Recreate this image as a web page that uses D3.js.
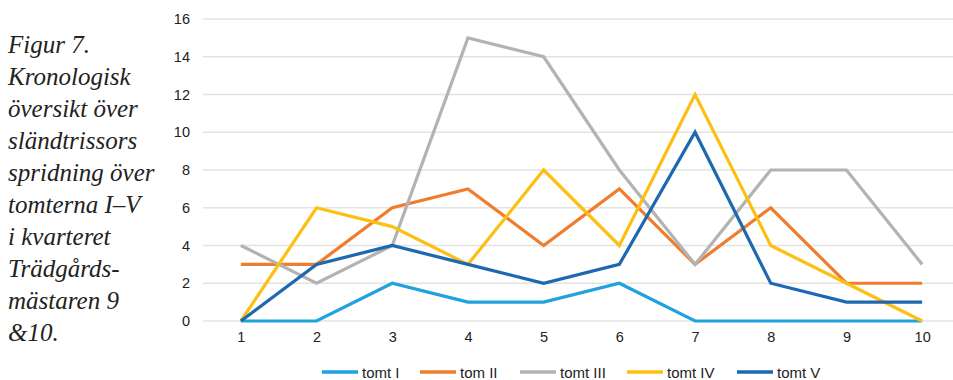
<!DOCTYPE html>
<html>
<head>
<meta charset="utf-8">
<script src="https://cdn.jsdelivr.net/npm/d3@7"></script>
<style>
  body { margin: 0; background: #fff; }
  svg { display: block; }
  .caption { font-family: "Liberation Serif", "DejaVu Serif", "Times New Roman", Times, serif; font-style: italic; }
  .lab { font-family: "Liberation Sans", Arial, sans-serif; }
</style>
</head>
<body>
<script>
var categories = [1, 2, 3, 4, 5, 6, 7, 8, 9, 10];
var seriesNames = ["tomt I", "tom II", "tomt III", "tomt IV", "tomt V"];
var tomtI   = [0, 0, 2, 1, 1, 2, 0, 0, 0, 0];
var tomtII  = [3, 3, 6, 7, 4, 7, 3, 6, 2, 2];
var tomtIII = [4, 2, 4, 15, 14, 8, 3, 8, 8, 3];
var tomtIV  = [0, 6, 5, 3, 8, 4, 12, 4, 2, 0];
var tomtV   = [0, 3, 4, 3, 2, 3, 10, 2, 1, 1];
var yTicks = [0, 2, 4, 6, 8, 10, 12, 14, 16];
var caption = ["Figur 7.", "Kronologisk", "översikt över", "sländtrissors",
  "spridning över", "tomterna I–V", "i kvarteret", "Trädgårds-", "mästaren 9", "&10."];

var colors = ["#1fa2de", "#ef7d2d", "#b3b3b3", "#fdbf12", "#1d69b1"];
var allSeries = [tomtI, tomtII, tomtIII, tomtIV, tomtV];

var width = 953, height = 380;
var svg = d3.select("body").append("svg")
    .attr("width", width)
    .attr("height", height);

// caption on the left
svg.append("g").selectAll("text")
    .data(caption)
    .enter()
    .append("text")
    .attr("class", "caption")
    .attr("x", 8)
    .attr("y", (d, i) => 53 + i * 32)
    .attr("font-size", 25)
    .attr("fill", "#222")
    .text(d => d);

var x = d3.scalePoint()
    .domain(categories)
    .range([203, 960])
    .padding(0.5);

var y = d3.scaleLinear()
    .domain([0, 16])
    .range([321, 19]);

// gridlines
svg.append("g").selectAll("line")
    .data(yTicks)
    .enter()
    .append("line")
    .attr("x1", 203)
    .attr("x2", 960)
    .attr("y1", d => y(d))
    .attr("y2", d => y(d))
    .attr("stroke", "#e3e3e3")
    .attr("stroke-width", 1.5);

var yAxis = svg.append("g")
    .attr("transform", "translate(190,0)")
    .call(d3.axisLeft(y).tickValues(yTicks).tickSize(0).tickPadding(0));
yAxis.select(".domain").remove();
yAxis.selectAll("text")
    .attr("class", "lab")
    .attr("font-size", 14.5)
    .attr("fill", "#222");

var xAxis = svg.append("g")
    .attr("transform", "translate(0,332)")
    .call(d3.axisBottom(x).tickSize(0).tickPadding(0));
xAxis.select(".domain").remove();
xAxis.selectAll("text")
    .attr("class", "lab")
    .attr("font-size", 14.5)
    .attr("fill", "#222");

var line = d3.line()
    .x((d, i) => x(categories[i]))
    .y(d => y(d));

svg.append("g").selectAll("path")
    .data(allSeries)
    .enter()
    .append("path")
    .attr("d", d => line(d))
    .attr("fill", "none")
    .attr("stroke", (d, i) => colors[i])
    .attr("stroke-width", 3.2)
    .attr("stroke-linejoin", "miter");

// legend
var legendX = [322, 420, 520, 627, 737];
var legend = svg.append("g").selectAll("g")
    .data(seriesNames)
    .enter()
    .append("g")
    .attr("transform", (d, i) => `translate(${legendX[i]}, 372)`);
legend.append("line")
    .attr("x1", 0).attr("x2", 36)
    .attr("stroke", (d, i) => colors[i])
    .attr("stroke-width", 3.5);
legend.append("text")
    .attr("class", "lab")
    .attr("x", 40)
    .attr("y", 5.5)
    .attr("font-size", 15)
    .attr("fill", "#222")
    .text(d => d);
</script>
</body>
</html>
